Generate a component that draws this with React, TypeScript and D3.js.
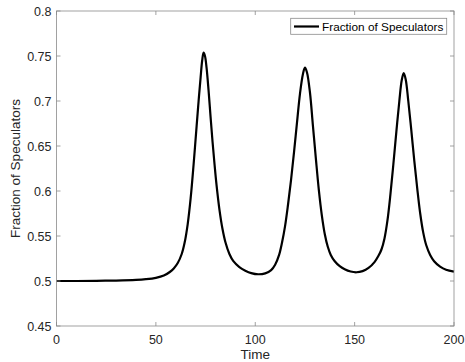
import React from "react";
import * as d3 from "d3";

const times: number[] = [0, 10, 20, 30, 40, 45, 50, 54, 57, 59, 61, 63, 64.5, 66, 67.5, 69, 70.5, 71.5, 72.5, 73.3, 74, 74.7, 75.5, 76.5, 77.5, 78.5, 79.5, 80.5, 82, 83.5, 85, 87, 89, 92, 95, 98, 101.5, 105, 108, 110, 112, 113.5, 115, 116.5, 118, 119.5, 121, 122.5, 124, 125, 126, 127.5, 129, 130.5, 132, 133.5, 135, 136.5, 138, 140, 142.5, 145, 148, 151, 154, 157, 160, 162, 163.5, 165, 166.5, 168, 169.5, 171, 172.5, 173.7, 174.7, 175.7, 177, 178.5, 180, 181.5, 183, 184.5, 186, 188, 190, 193, 196, 200];
const fraction: number[] = [0.5, 0.5, 0.5002, 0.5005, 0.5012, 0.502, 0.5035, 0.506, 0.51, 0.514, 0.52, 0.53, 0.543, 0.563, 0.592, 0.63, 0.672, 0.7, 0.726, 0.745, 0.7537, 0.75, 0.737, 0.712, 0.683, 0.655, 0.63, 0.607, 0.579, 0.558, 0.543, 0.53, 0.522, 0.5155, 0.5115, 0.5088, 0.5075, 0.5085, 0.512, 0.518, 0.529, 0.543, 0.561, 0.585, 0.612, 0.643, 0.676, 0.708, 0.73, 0.737, 0.732, 0.71, 0.673, 0.636, 0.601, 0.573, 0.552, 0.538, 0.529, 0.522, 0.5165, 0.513, 0.5105, 0.5097, 0.511, 0.5145, 0.521, 0.528, 0.535, 0.547, 0.567, 0.596, 0.63, 0.666, 0.7, 0.723, 0.731, 0.724, 0.7, 0.668, 0.634, 0.603, 0.575, 0.554, 0.54, 0.529, 0.522, 0.516, 0.5125, 0.5105];

const xTicks: number[] = [0, 50, 100, 150, 200];
const yTicks: number[] = [0.45, 0.5, 0.55, 0.6, 0.65, 0.7, 0.75, 0.8];
const yTickLabels: string[] = ["0.45", "0.5", "0.55", "0.6", "0.65", "0.7", "0.75", "0.8"];
const legendLabel = "Fraction of Speculators";
const xLabel = "Time";
const yLabel = "Fraction of Speculators";

const W = 465, H = 362;
const L = 56.5, R = 454, T = 11, B = 326;
const font = "'Liberation Sans', Arial, Helvetica, sans-serif";
const axisColor = "#8a8a8a";
const textColor = "#262626";

export default function App() {
  const x = d3.scaleLinear().domain([0, 200]).range([L, R]);
  const y = d3.scaleLinear().domain([0.45, 0.8]).range([B, T]);
  const data = times.map((t, i) => [t, fraction[i]] as [number, number]);
  const line = d3.line<[number, number]>().x(d => x(d[0])).y(d => y(d[1])).curve(d3.curveCatmullRom.alpha(0.5));
  const tl = 4;
  return (
    <svg width={W} height={H} style={{ position: "absolute", left: 0, top: 0, background: "#fff" }}>
      <rect x={0} y={0} width={W} height={H} fill="#fff" />
      <path d={line(data) || ""} fill="none" stroke="#000" strokeWidth={2.2} strokeLinejoin="round" />
      <rect x={L} y={T} width={R - L} height={B - T} fill="none" stroke={axisColor} strokeWidth={0.8} />
      {xTicks.map(t => (
        <g key={"x" + t}>
          <line x1={x(t)} x2={x(t)} y1={B} y2={B - tl} stroke={axisColor} strokeWidth={0.8} />
          <line x1={x(t)} x2={x(t)} y1={T} y2={T + tl} stroke={axisColor} strokeWidth={0.8} />
          <text x={x(t)} y={344.3} textAnchor="middle" fontFamily={font} fontSize={12.5} fill={textColor}>{t}</text>
        </g>
      ))}
      {yTicks.map((v, i) => (
        <g key={"y" + v}>
          <line x1={L} x2={L + tl} y1={y(v)} y2={y(v)} stroke={axisColor} strokeWidth={0.8} />
          <line x1={R} x2={R - tl} y1={y(v)} y2={y(v)} stroke={axisColor} strokeWidth={0.8} />
          <text x={51.5} y={y(v) + 4.5} textAnchor="end" fontFamily={font} fontSize={12.5} fill={textColor}>{yTickLabels[i]}</text>
        </g>
      ))}
      <text x={(L + R) / 2} y={359} textAnchor="middle" fontFamily={font} fontSize={13.5} fill={textColor}>{xLabel}</text>
      <text transform={`translate(20,${(T + B) / 2}) rotate(-90)`} textAnchor="middle" fontFamily={font} fontSize={13.5} fill={textColor}>{yLabel}</text>
      <g>
        <rect x={290.7} y={18.3} width={156} height={16} fill="#fff" stroke={axisColor} strokeWidth={0.8} />
        <line x1={294} x2={319} y1={26.5} y2={26.5} stroke="#000" strokeWidth={2.2} />
        <text x={322} y={30.7} fontFamily={font} fontSize={11.8} fill="#000">{legendLabel}</text>
      </g>
    </svg>
  );
}
